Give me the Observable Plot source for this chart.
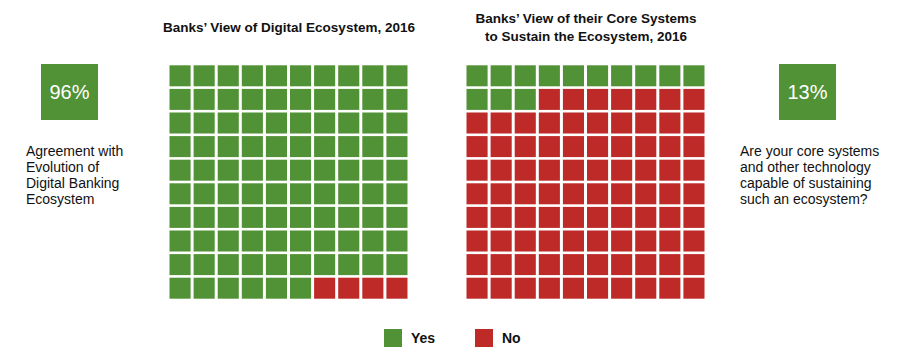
<!DOCTYPE html>
<html><head><meta charset="utf-8">
<script src="https://cdn.jsdelivr.net/npm/d3@7"></script>
<script src="https://cdn.jsdelivr.net/npm/@observablehq/plot@0.6"></script>
<style>
body{margin:0;background:#fff;font-family:"Liberation Sans",Arial,sans-serif;}
#wrap{position:relative;width:909px;height:364px;overflow:hidden;}
#wrap svg{position:absolute;left:0;top:0;}
.box{position:absolute;top:64px;width:57px;height:56px;color:#fff;font-size:20px;display:flex;align-items:center;justify-content:center;}
.q{position:absolute;top:143px;font-size:14px;line-height:16px;color:#111;white-space:pre;}
.lg{position:absolute;top:329px;display:flex;align-items:center;font-size:14px;font-weight:bold;color:#111;}
.lg span.sw{display:inline-block;width:18px;height:18px;margin-right:9px;}
</style>
</head><body>
<div id="wrap"></div>
<script>
const chartTitles = ["Banks’ View of Digital Ecosystem, 2016", "Banks’ View of their Core Systems\nto Sustain the Ecosystem, 2016"];
const yesShare = [96, 13];
const questions = ["Agreement with\nEvolution of\nDigital Banking\nEcosystem", "Are your core systems\nand other technology\ncapable of sustaining\nsuch an ecosystem?"];
const answers = ["Yes", "No"];
const answerColors = ["#519236", "#be2a27"];
const gridColumns = d3.range(10);
const gridRows = d3.range(10);

const cells = chartTitles.flatMap((title, k) =>
  d3.range(gridColumns.length * gridRows.length).map(i => ({
    chart: title,
    col: i % gridColumns.length,
    row: Math.floor(i / gridColumns.length),
    answer: i < yesShare[k] ? answers[0] : answers[1]
  })));

const chart = Plot.plot({
  width: 909, height: 364,
  marginLeft: 168, marginRight: 203, marginTop: 64, marginBottom: 64,
  style: {fontFamily: "'Liberation Sans', Arial, sans-serif", background: "transparent"},
  fx: {domain: chartTitles, paddingInner: 0.1886, paddingOuter: 0, round: false, axis: null},
  x: {domain: gridColumns, padding: 0, round: false, axis: null},
  y: {domain: gridRows, padding: 0, round: false, axis: null},
  color: {domain: answers, range: answerColors},
  marks: [
    Plot.cell(cells, {fx: "chart", x: "col", y: "row", fill: "answer", insetLeft: 1.5, insetRight: 1.5, insetTop: 1.3, insetBottom: 1.3}),
    Plot.text(chartTitles, {fx: d => d, text: d => d, frameAnchor: "top", dy: -38, lineAnchor: "middle", fontWeight: "bold", fontSize: 13.5, lineHeight: 1.33, fill: "#111"})
  ]
});
const wrap = document.getElementById("wrap");
wrap.appendChild(chart);

// Side percentage boxes and questions
const boxLeft = [41, 779];
const qLeft = [26, 740];
yesShare.forEach((v, k) => {
  const b = document.createElement("div");
  b.className = "box";
  b.style.left = boxLeft[k] + "px";
  b.style.background = answerColors[0];
  b.textContent = v + "%";
  wrap.appendChild(b);
  const q = document.createElement("div");
  q.className = "q";
  q.style.left = qLeft[k] + "px";
  q.textContent = questions[k];
  wrap.appendChild(q);
});

// Legend
const lgLeft = [384, 475];
answers.forEach((a, k) => {
  const l = document.createElement("div");
  l.className = "lg";
  l.style.left = lgLeft[k] + "px";
  l.innerHTML = `<span class="sw" style="background:${answerColors[k]}"></span>${a}`;
  wrap.appendChild(l);
});
</script>
</body></html>
